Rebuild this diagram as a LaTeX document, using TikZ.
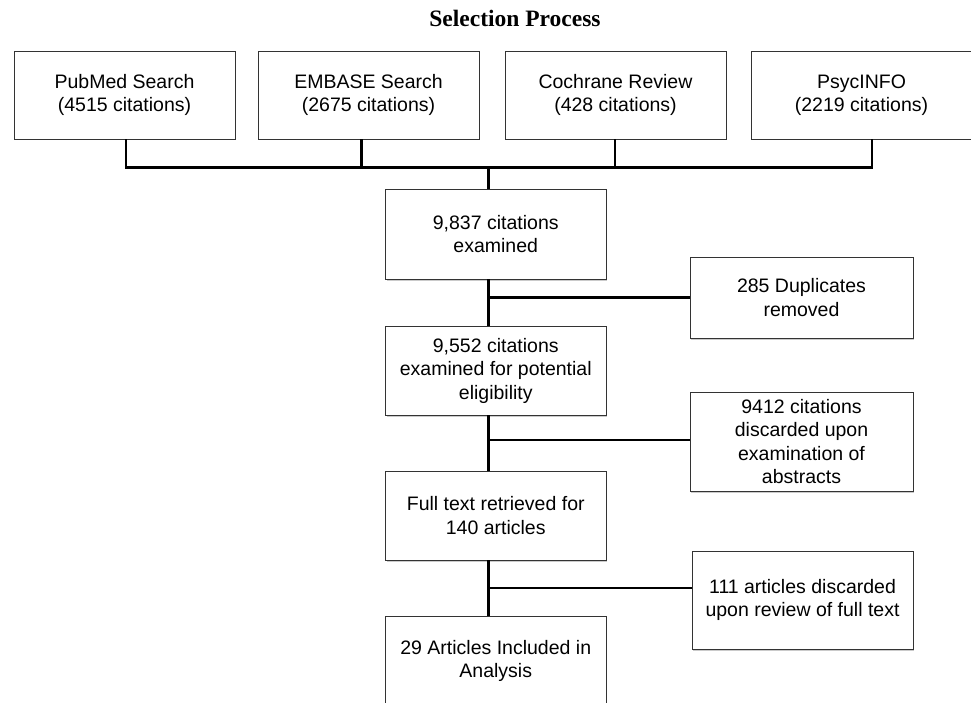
\documentclass[tikz,border=0pt]{standalone}
\usepackage{fontspec}
\setmainfont{Liberation Sans}
\newfontfamily\titlefont{Liberation Serif}
\usetikzlibrary{shadows}
\begin{document}
\begin{tikzpicture}[x=1pt,y=-1pt,
  box/.style={draw=black!80, line width=0.9pt, fill=white, align=center,
    inner sep=0pt, font=\fontsize{19.5}{23.5}\selectfont,
    drop shadow={shadow xshift=1.2pt, shadow yshift=-1.5pt, opacity=0.35, fill=black!60}},
  conn/.style={line width=2.6pt, black, line join=miter}]
\useasboundingbox (0,0) rectangle (971,703);
\clip (0,0) rectangle (971,703);

\node[anchor=base, font=\titlefont\bfseries\fontsize{23.5}{26}\selectfont] (title) at (515,27) {Selection Process};

\node[box, minimum width=221pt, minimum height=88pt] (pub)  at (124.5,95) {PubMed Search\\(4515 citations)};
\node[box, minimum width=221pt, minimum height=88pt] (emb)  at (368.5,95) {EMBASE Search\\(2675 citations)};
\node[box, minimum width=221pt, minimum height=88pt] (coch) at (615.5,95) {Cochrane Review\\(428 citations)};
\node[box, minimum width=221pt, minimum height=88pt] (psy)  at (861.5,95) {PsycINFO\\(2219 citations)};

\node[box, minimum width=220.5pt, minimum height=90pt] (exam) at (495.75,234) {9,837 citations\\examined};
\node[box, minimum width=223pt, minimum height=81pt] (dup)  at (801.5,297.5) {285 Duplicates\\removed};
\node[box, minimum width=220.5pt, minimum height=89pt] (elig) at (495.75,370.5) {9,552 citations\\examined for potential\\eligibility};
\node[box, minimum width=223pt, minimum height=99pt] (abs)  at (801.5,441.5) {9412 citations\\discarded upon\\examination of\\abstracts};
\node[box, minimum width=220.5pt, minimum height=89pt] (full) at (495.75,515.5) {Full text retrieved for\\140 articles};
\node[box, minimum width=221pt, minimum height=98pt] (art)  at (802.5,600) {111 articles discarded\\upon review of full text};
\node[box, minimum width=220.5pt, minimum height=90pt] (inc)  at (495.75,661) {29 Articles Included in\\Analysis};

\coordinate (v1) at (126,167.5);
\coordinate (v2) at (361.5,167.5);
\coordinate (v3) at (615,167.5);
\coordinate (v4) at (872,167.5);
\coordinate (tr) at (488.5,167.5);
\coordinate (b1) at (488.5,297.5);
\coordinate (b2) at (488.5,440);
\coordinate (b3) at (488.5,588);

\draw[conn] (pub.south -| v1) -- (v1) -- (v4) -- (psy.south -| v4);
\draw[conn] (emb.south -| v2) -- (v2);
\draw[conn] (coch.south -| v3) -- (v3);
\draw[conn] (tr) -- (exam.north -| tr);

\draw[conn] (exam.south -| b1) -- (elig.north -| b1);
\draw[conn] (b1) -- (dup.west |- b1);
\draw[conn] (elig.south -| b2) -- (full.north -| b2);
\draw[conn] (b2) -- (abs.west |- b2);
\draw[conn] (full.south -| b3) -- (inc.north -| b3);
\draw[conn] (b3) -- (art.west |- b3);
\end{tikzpicture}
\end{document}
